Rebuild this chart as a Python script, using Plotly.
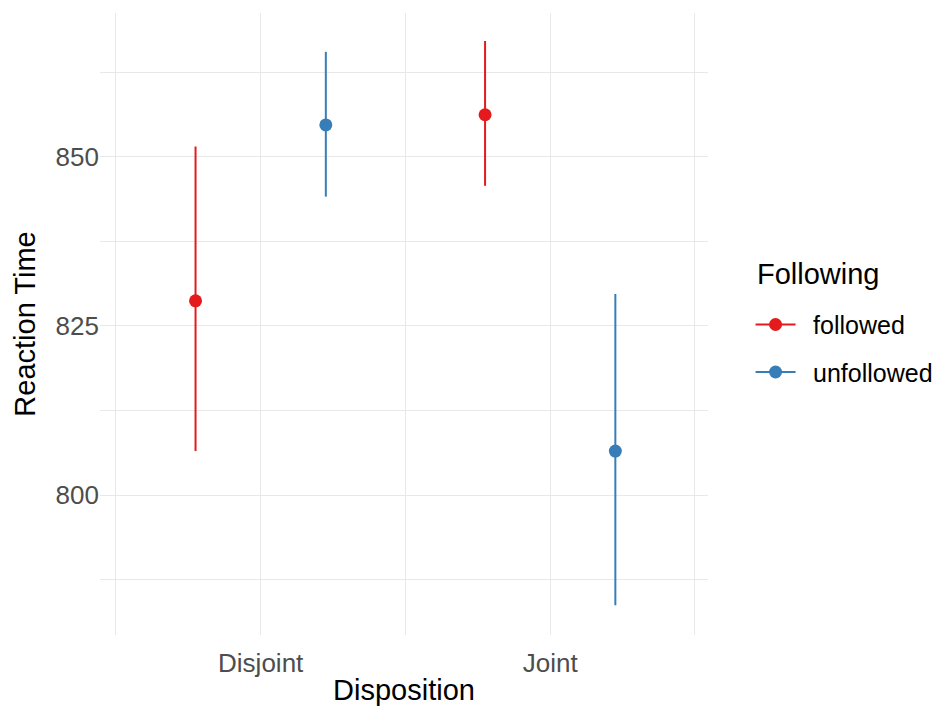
import plotly.graph_objects as go

categories = ["Disjoint", "Joint"]
groups = ["followed", "unfollowed"]
colors = {"followed": "#E41A1C", "unfollowed": "#377EB8"}

mean_followed = [828.7, 856.2]
upper_followed = [851.5, 867.1]
lower_followed = [806.5, 845.7]

mean_unfollowed = [854.7, 806.5]
upper_unfollowed = [865.5, 829.7]
lower_unfollowed = [844.1, 783.7]

y_ticks = [800, 825, 850]
y_minor = [787.5, 812.5, 837.5, 862.5]

data = {
    "followed": (mean_followed, upper_followed, lower_followed),
    "unfollowed": (mean_unfollowed, upper_unfollowed, lower_unfollowed),
}
dodge = {"followed": -0.225, "unfollowed": 0.225}
base_x = list(range(1, len(categories) + 1))

FONT = "Liberation Sans, Arial, sans-serif"

fig = go.Figure()
for g in groups:
    m, up, lo = data[g]
    xs = [b + dodge[g] for b in base_x]
    fig.add_trace(go.Scatter(
        x=xs, y=m, mode="markers",
        marker=dict(color=colors[g], size=13),
        error_y=dict(type="data", symmetric=False,
                     array=[u - v for u, v in zip(up, m)],
                     arrayminus=[v - l for v, l in zip(m, lo)],
                     color=colors[g], thickness=2, width=0),
        showlegend=False, hoverinfo="skip",
    ))
for g in groups:
    fig.add_trace(go.Scatter(
        x=[None], y=[None], mode="lines+markers", name="\u2002" + g,
        marker=dict(color=colors[g], size=13),
        line=dict(color=colors[g], width=2),
        legendgroup=g,
    ))

fig.update_layout(
    width=938, height=709,
    margin=dict(l=100, r=230, t=13, b=74, autoexpand=False),
    paper_bgcolor="white", plot_bgcolor="white",
    font=dict(family=FONT, size=24, color="#4D4D4D"),
    xaxis=dict(
        range=[0.445, 2.545], tickvals=base_x, ticktext=categories,
        showgrid=True, gridcolor="#E8E8E8", gridwidth=1,
        minor=dict(tickvals=[0.5, 1.5, 2.5], showgrid=True, gridcolor="#E8E8E8", gridwidth=1),
        zeroline=False, showline=False, ticks="",
        tickfont=dict(size=26, color="#4D4D4D"), ticklabelstandoff=10,
        title=dict(text="Disposition", font=dict(size=29, color="black"), standoff=2),
    ),
    yaxis=dict(
        range=[779.31, 871.24], tickvals=y_ticks,
        showgrid=True, gridcolor="#E8E8E8", gridwidth=1,
        minor=dict(tickvals=y_minor, showgrid=True, gridcolor="#E8E8E8", gridwidth=1),
        zeroline=False, showline=False, ticks="",
        tickfont=dict(size=26, color="#4D4D4D"),
        title=dict(text="Reaction Time", font=dict(size=29, color="black"), standoff=11),
    ),
    legend=dict(
        font=dict(size=25, color="black"),
        x=1.070, xanchor="left", y=0.461, yanchor="middle",
        itemwidth=40, tracegroupgap=12, bgcolor="rgba(0,0,0,0)",
    ),
    annotations=[dict(
        text="Following", xref="paper", yref="paper",
        x=1.077, y=0.580, xanchor="left", yanchor="middle",
        showarrow=False, font=dict(size=29, color="black"),
    )],
)

fig.write_html("out.html")
